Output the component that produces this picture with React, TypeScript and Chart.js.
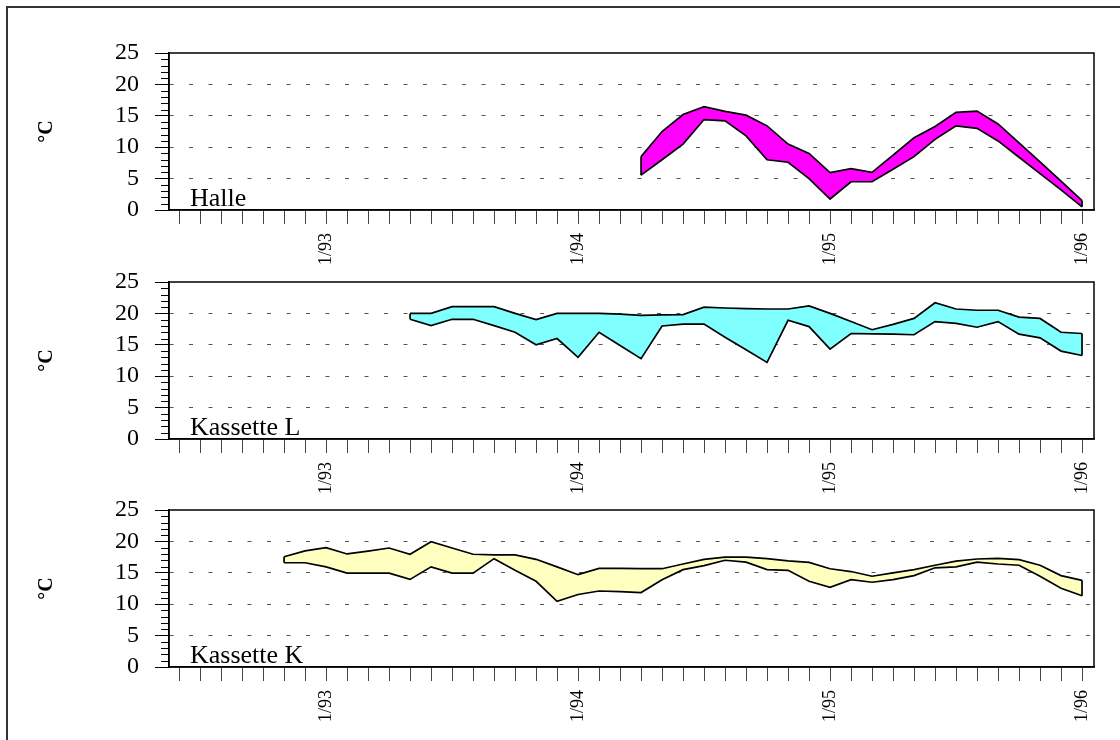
import React, { useEffect, useRef } from 'react';
import { Chart, registerables } from 'chart.js';

Chart.register(...registerables);

// ---- axis data ----
const yearTickMonths = [0, 12, 24, 36]; // months since 1/93
const yearTickLabels = ['1/93', '1/94', '1/95', '1/96'];
const firstMonthTick = -7; // 6/92
const lastMonthTick = 36; // 1/96
const xMin = -7.48;
const xMax = 36.57;
const yTicks = [0, 5, 10, 15, 20, 25];
const yMinorStep = 1;

// ---- series (months since 1/93 of first value, max & min per month) ----
const halleStart = 15;
const halleMax = [8.5, 12.5, 15.2, 16.45, 15.7, 15.1, 13.4, 10.5, 9.0, 5.95, 6.6, 6.0, 8.75, 11.5, 13.3, 15.55, 15.75, 13.7, 10.7, 7.65, 4.6, 1.5];
const halleMin = [5.55, 8.0, 10.5, 14.4, 14.2, 11.8, 8.0, 7.6, 5.0, 1.75, 4.5, 4.5, 6.5, 8.5, 11.25, 13.4, 13.0, 11.0, 8.4, 5.8, 3.2, 0.5];

const kasLStart = 4;
const kasLMax = [20.0, 20.0, 21.07, 21.07, 21.07, 20.0, 19.0, 20.0, 20.0, 20.0, 19.9, 19.7, 19.75, 19.8, 21.0, 20.86, 20.76, 20.7, 20.7, 21.2, 20.0, 18.7, 17.4, 18.26, 19.2, 21.7, 20.7, 20.5, 20.5, 19.4, 19.2, 17.0, 16.8];
const kasLMin = [19.06, 18.05, 19.06, 19.06, 18.05, 17.0, 15.0, 16.0, 13.0, 17.0, 14.9, 12.8, 18.0, 18.3, 18.3, 16.2, 14.2, 12.2, 18.9, 17.9, 14.3, 16.8, 16.75, 16.7, 16.6, 18.7, 18.4, 17.8, 18.7, 16.7, 16.1, 14.0, 13.3];

const kasKStart = -2;
const kasKMax = [17.55, 18.5, 19.0, 18.0, 18.45, 18.95, 17.95, 19.95, 18.95, 17.95, 17.85, 17.85, 17.15, 15.95, 14.7, 15.7, 15.7, 15.65, 15.65, 16.4, 17.15, 17.5, 17.5, 17.25, 16.9, 16.65, 15.65, 15.2, 14.45, 15.0, 15.5, 16.2, 16.85, 17.2, 17.3, 17.1, 16.2, 14.55, 13.8];
const kasKMin = [16.6, 16.6, 15.95, 14.95, 14.95, 14.95, 13.95, 15.95, 14.95, 14.95, 17.25, 15.4, 13.65, 10.45, 11.55, 12.1, 12.0, 11.85, 13.9, 15.5, 16.15, 17.0, 16.7, 15.5, 15.4, 13.65, 12.7, 13.9, 13.5, 13.9, 14.55, 15.8, 15.95, 16.7, 16.4, 16.2, 14.45, 12.55, 11.35];

const FONT = '"Liberation Serif", "Times New Roman", serif';

type PanelProps = {
  label: string;
  start: number;
  maxVals: number[];
  minVals: number[];
  color: string;
  top: number;
};

const CANVAS_W = 1120;
const PAD_TOP = 20;
const PLOT_H = 157;
const XAXIS_H = 65;
const CANVAS_H = PAD_TOP + PLOT_H + XAXIS_H;

function Panel({ label, start, maxVals, minVals, color, top }: PanelProps) {
  const ref = useRef<HTMLCanvasElement | null>(null);
  useEffect(() => {
    if (!ref.current) return;
    const toPts = (vals: number[]) => vals.map((v, i) => ({ x: start + i, y: v }));
    const last = maxVals.length - 1;
    const monthTicks: number[] = [];
    for (let m = firstMonthTick; m <= lastMonthTick; m++) monthTicks.push(m);

    const line = {
      borderColor: '#000',
      borderWidth: 1.7,
      pointRadius: 0,
      tension: 0,
      fill: false as any,
    };

    const framePlugin = {
      id: 'frame',
      afterDraw(chart: any) {
        const { ctx, chartArea } = chart;
        const { left, top: t, right, bottom } = chartArea;
        const ys = chart.scales.y;
        ctx.save();
        // minor y ticks
        ctx.strokeStyle = '#000';
        ctx.lineWidth = 1;
        for (let v = yTicks[0]; v <= yTicks[yTicks.length - 1]; v += yMinorStep) {
          if (yTicks.includes(v)) continue;
          const py = Math.round(ys.getPixelForValue(v)) + 0.5;
          ctx.beginPath();
          ctx.moveTo(left - 8, py);
          ctx.lineTo(left, py);
          ctx.stroke();
        }
        // plot box
        ctx.lineWidth = 1.5;
        ctx.strokeRect(left, t, right - left, bottom - t);
        // panel label
        ctx.fillStyle = '#000';
        ctx.font = `26px ${FONT}`;
        ctx.textAlign = 'left';
        ctx.textBaseline = 'alphabetic';
        ctx.fillText(label, left + 21, bottom - 4);
        ctx.restore();
      },
    };

    const chart = new Chart(ref.current, {
      type: 'line',
      data: {
        datasets: [
          { ...line, data: toPts(maxVals), fill: '+1', backgroundColor: color },
          { ...line, data: toPts(minVals) },
          { ...line, data: [{ x: start, y: maxVals[0] }, { x: start, y: minVals[0] }] },
          { ...line, data: [{ x: start + last, y: maxVals[last] }, { x: start + last, y: minVals[last] }] },
        ] as any,
      },
      options: {
        responsive: false,
        animation: false,
        events: [],
        layout: { padding: { left: 0, right: 26, top: PAD_TOP, bottom: 0 } },
        plugins: {
          legend: { display: false },
          tooltip: { enabled: false },
          filler: { drawTime: 'beforeDatasetsDraw' } as any,
        },
        scales: {
          x: {
            type: 'linear',
            min: xMin,
            max: xMax,
            afterBuildTicks: (s: any) => {
              s.ticks = monthTicks.map((v) => ({ value: v }));
            },
            afterFit: (s: any) => {
              s.height = XAXIS_H;
              s.paddingLeft = 0;
              s.paddingRight = 0;
            },
            grid: { drawOnChartArea: false, drawTicks: true, tickLength: 14, color: '#444', lineWidth: 1 },
            border: { display: true, color: '#000', width: 1.5 },
            ticks: {
              autoSkip: false,
              maxRotation: 90,
              minRotation: 90,
              padding: 9,
              color: '#000',
              font: { family: FONT, size: 18 },
              callback: (v: any) => {
                const i = yearTickMonths.indexOf(Number(v));
                return i >= 0 ? yearTickLabels[i] : '';
              },
            },
          },
          y: {
            min: yTicks[0],
            max: yTicks[yTicks.length - 1],
            afterBuildTicks: (s: any) => {
              s.ticks = yTicks.map((v) => ({ value: v }));
            },
            afterFit: (s: any) => {
              s.width = 169;
              s.paddingTop = 0;
              s.paddingBottom = 0;
            },
            grid: {
              color: (c: any) =>
                c.tick && (c.tick.value === yTicks[0] || c.tick.value === yTicks[yTicks.length - 1])
                  ? 'rgba(0,0,0,0)'
                  : '#555',
              tickColor: '#000',
              tickLength: 14,
              lineWidth: 1,
              tickBorderDash: [],
            } as any,
            border: { display: true, color: '#000', width: 1.5, dash: [4, 15.5], dashOffset: 0 } as any,
            ticks: { autoSkip: false, padding: 16, color: '#000', font: { family: FONT, size: 24 } },
            title: {
              display: true,
              text: '°C',
              color: '#000',
              font: { family: FONT, size: 20, weight: 'bold' },
              padding: { top: 35, bottom: 0 },
            },
          },
        },
      } as any,
      plugins: [framePlugin],
    });
    return () => chart.destroy();
  }, [label, start, maxVals, minVals, color]);

  return (
    <canvas
      ref={ref}
      width={CANVAS_W}
      height={CANVAS_H}
      style={{ position: 'absolute', left: 0, top: top - PAD_TOP, width: CANVAS_W, height: CANVAS_H }}
    />
  );
}

export default function App() {
  return (
    <div
      style={{
        position: 'absolute',
        left: 0,
        top: 0,
        width: 1120,
        height: 740,
        overflow: 'hidden',
        background: '#fff',
      }}
    >
      <div
        style={{
          position: 'absolute',
          left: 6,
          top: 6,
          width: 1300,
          height: 900,
          border: '2px solid #333',
        }}
      />
      <Panel label="Halle" start={halleStart} maxVals={halleMax} minVals={halleMin} color="#FF00FF" top={53} />
      <Panel label="Kassette L" start={kasLStart} maxVals={kasLMax} minVals={kasLMin} color="#80FFFF" top={282} />
      <Panel label="Kassette K" start={kasKStart} maxVals={kasKMax} minVals={kasKMin} color="#FFFFC0" top={510} />
    </div>
  );
}
